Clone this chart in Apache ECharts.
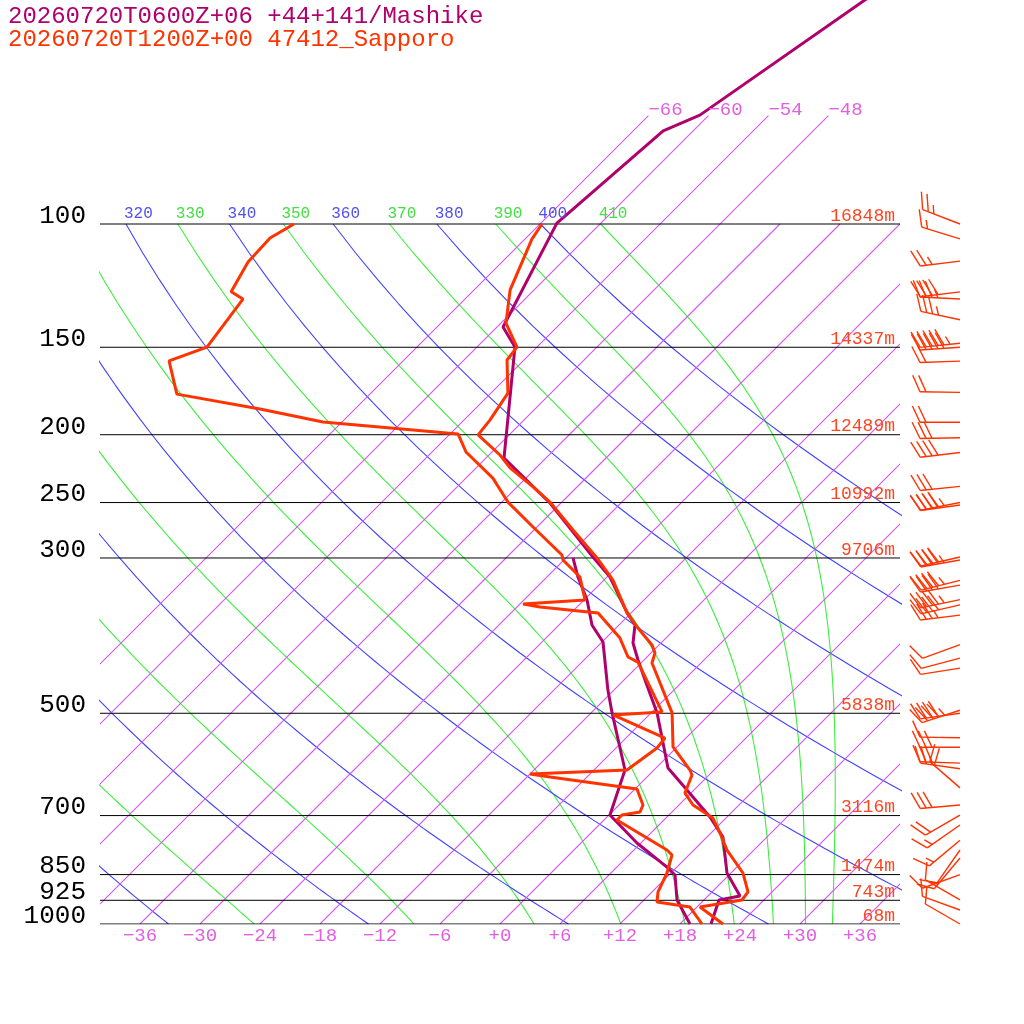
<!DOCTYPE html>
<html><head><meta charset="utf-8">
<script src="https://cdn.jsdelivr.net/npm/echarts/dist/echarts.min.js"></script>
<style>html,body{margin:0;padding:0;background:#fff}#c{width:1024px;height:1024px}</style>
</head><body><div id="c"></div>
<script>
// ---------------- data ----------------
const titleLines = ['20260720T0600Z+06 +44+141/Mashike', '20260720T1200Z+00 47412_Sapporo'];
const pressureLevels = [100, 150, 200, 250, 300, 500, 700, 850, 925, 1000];
const heightLabels = ['16848m', '14337m', '12489m', '10992m', '9706m', '5838m', '3116m', '1474m', '743m', '68m'];
const tickTemps = [-36, -30, -24, -18, -12, -6, 0, 6, 12, 18, 24, 30, 36];
const isothermTemps = [-66, -60, -54, -48, -42, -36, -30, -24, -18, -12, -6, 0, 6, 12, 18, 24, 30, 36];
const upperIsotherms = [-66, -60, -54, -48];
const dryThetas = [200, 220, 240, 260, 280, 300, 320, 340, 360, 380, 400];
const moistThetaEs = [230, 250, 270, 290, 310, 330, 350, 370, 390, 410];
const dryLabels = [320, 340, 360, 380, 400];
const moistLabels = [310, 330, 350, 370, 390, 410];

// Mashike (model) profile
const mashikeTempP = [45, 69.9, 73.6, 99.7, 140.3, 149.9, 215.9, 250.4, 299.1, 319.4, 359.4, 374.0, 396.8, 419.6, 448.1, 499.4, 598.6, 643.6, 703.4, 751.3, 845.6, 912.0, 924.1, 1000];
const mashikeTemp = [-55.1, -60.9, -63.0, -64.4, -59.4, -56.2, -46.2, -37.1, -27.4, -23.7, -18.4, -16.4, -14.8, -12.6, -9.9, -5.4, 1.2, 5.3, 10.3, 13.6, 17.6, 21.2, 19.5, 21.1];
const mashikeDewP = [300, 319.4, 344.4, 374.0, 395.5, 463.3, 499.4, 602.6, 698.8, 766.1, 829.2, 851.1, 924.1, 1000];
const mashikeDew = [-29.3, -26.9, -23.7, -20.7, -17.9, -12.6, -9.9, -2.9, 0.1, 5.6, 11.0, 12.6, 15.3, 19.0];

// Sapporo (47412) radiosonde
const sapporoTempP = [100, 105.1, 112.6, 124.2, 138.5, 149.9, 156.4, 174.4, 190.5, 200.1, 213.8, 223.1, 237.5, 249.6, 273.6, 300.0, 322.6, 359.4, 376.4, 399.4, 410.1, 423.8, 499.4, 558.6, 602.6, 612.6, 650.0, 676.1, 705.8, 741.3, 784.0, 845.6, 900.0, 924.1, 945.7, 1000];
const sapporoTemp = [-65.8, -65.3, -64.1, -62.4, -59.5, -56.0, -55.7, -52.3, -51.4, -51.1, -46.9, -44.6, -40.4, -37.2, -32.1, -26.9, -23.1, -18.4, -16.0, -12.7, -11.6, -10.9, -3.9, -0.4, 3.6, 4.3, 5.4, 7.4, 10.7, 12.9, 15.3, 19.2, 21.6, 21.8, 18.3, 22.3];
const sapporoDewP = [100, 104.7, 113.3, 125.0, 128.0, 149.9, 156.9, 175.0, 183.8, 191.8, 199.5, 211.7, 230.7, 249.6, 270.9, 297.1, 302.0, 319.4, 344.4, 349.0, 352.4, 359.4, 390.4, 415.5, 422.5, 497.8, 502.7, 542.4, 560.5, 602.6, 610.6, 616.6, 641.5, 676.1, 691.8, 698.8, 710.4, 784.0, 797.0, 845.6, 900.0, 930.2, 945.7, 1000];
const sapporoDew = [-90.6, -91.6, -91.4, -90.1, -88.2, -87.0, -89.4, -85.3, -75.5, -67.9, -53.2, -50.6, -45.3, -41.4, -36.4, -30.7, -30.1, -26.7, -23.9, -29.7, -27.7, -21.3, -16.6, -13.9, -12.4, -5.0, -9.6, -2.1, -1.9, -2.7, -12.0, -9.7, 0.2, 2.4, 2.8, 1.3, 1.3, 9.3, 10.3, 11.6, 12.6, 13.5, 17.3, 20.2];

// Sapporo winds: pressure (hPa), direction (deg), speed (kt)
const windP = [100, 105, 113, 125, 128, 137, 148, 150, 157, 174, 192, 202, 212, 237, 250, 252, 299, 302, 323, 328, 344, 350, 362, 399, 417, 431, 495, 500, 542, 559, 589, 600, 639, 676, 699, 722, 759, 784, 805, 850, 924, 955, 1000];
const windDir = [291, 287, 263, 263, 273, 282, 264, 266, 268, 271, 270, 269, 263, 264, 259, 262, 257, 260, 256, 260, 258, 257, 263, 250, 255, 261, 252, 262, 271, 270, 272, 278, 311, 265, 240, 235, 230, 215, 220, 250, 300, 290, 300];
const windSpd = [25, 15, 25, 40, 35, 35, 55, 50, 20, 20, 20, 30, 40, 30, 45, 40, 40, 45, 45, 40, 45, 40, 35, 10, 10, 10, 45, 40, 10, 30, 30, 25, 20, 30, 20, 15, 15, 10, 15, 10, 10, 10, 10];

// ---------------- helpers ----------------
const FONT = '"Liberation Mono", "DejaVu Sans Mono", monospace';
const SKEW = 70;              // skew (deg C per decade of pressure)
const P_TOP = 1000 * Math.pow(10, -924 / 700);
const C_MASHIKE = '#b0006c', C_SAPPORO = '#ff3300';
const C_ISO = '#d456f0', C_DRY = '#4242ff', C_MOIST = '#3cee3c';

function skewX(T, p) { return T + SKEW * Math.log10(1000 / p); }
function satMix(Tc, p) { const e = 6.112 * Math.exp(17.67 * Tc / (Tc + 243.5)); return 0.622 * e / (p - e); }
function thetaE(Tc, p) {
  const T = Tc + 273.15, r = satMix(Tc, p);
  return T * Math.pow(1000 / p, 0.2854 * (1 - 0.28 * r)) * Math.exp((3.376 / T - 0.00254) * r * 1000 * (1 + 0.81 * r));
}
function moistLapse(p, Tc) {
  const T = Tc + 273.15, r = satMix(Tc, p), Rd = 287.04, cp = 1005.7, L = 2.501e6, eps = 0.622;
  return (Rd * T + L * r) / (p * (cp + L * L * r * eps / (Rd * T * T)));
}
function dryLine(theta) {
  const pts = [];
  for (let p = 1000; p >= 100; p -= 10) pts.push([skewX(theta * Math.pow(p / 1000, 0.2857) - 273.15, p), p]);
  return pts;
}
function moistLine(te) {
  let lo = -100, hi = 50;
  for (let i = 0; i < 60; i++) { const m = (lo + hi) / 2; if (thetaE(m, 1000) > te) hi = m; else lo = m; }
  let T = (lo + hi) / 2, p = 1000;
  const pts = [[skewX(T, p), p]], h = -5;
  while (p > 100 + 1e-6) {
    const k1 = moistLapse(p, T), k2 = moistLapse(p + h / 2, T + h / 2 * k1),
      k3 = moistLapse(p + h / 2, T + h / 2 * k2), k4 = moistLapse(p + h, T + h * k3);
    T += h / 6 * (k1 + 2 * k2 + 2 * k3 + k4); p += h;
    if (Math.round(p) % 10 === 0) pts.push([skewX(T, p), p]);
  }
  return pts;
}
function profile(ps, ts) { return ps.map((p, i) => [skewX(ts[i], p), p]); }
function lineSeries(data, color, width, z) {
  return { type: 'line', data, symbol: 'none', silent: true, animation: false, clip: true, z: z,
    color: color, itemStyle: { color: color },
    lineStyle: { color: color, width: width }, emphasis: { disabled: true } };
}
function textSeries(points, texts, colors, o) {
  return {
    type: 'custom', silent: true, animation: false, clip: !!o.clip, z: 10, data: points,
    renderItem: function (params, api) {
      const i = params.dataIndex, c = api.coord(points[i]);
      return { type: 'text', x: c[0] + (o.dx || 0), y: c[1] + (o.dy || 0),
        style: { text: texts[i], fill: Array.isArray(colors) ? colors[i] : colors,
          font: o.size + 'px ' + FONT, align: o.align, verticalAlign: 'middle',
          textAlign: o.align, textVerticalAlign: 'middle' } };
    }
  };
}
const fmtT = t => (t < 0 ? '\u2212' + Math.abs(t) : '+' + t);

// ---------------- series ----------------
const series = [];
const moistLines = {};
moistThetaEs.forEach(te => { moistLines[te] = moistLine(te); series.push(lineSeries(moistLines[te], C_MOIST, 1.1, 1)); });
dryThetas.forEach(th => series.push(lineSeries(dryLine(th), C_DRY, 1.1, 1)));

// isotherms: straight lines in skew-T space, drawn through the axes
series.push({
  type: 'custom', silent: true, animation: false, clip: true, z: 2,
  data: isothermTemps.map(t => [t, upperIsotherms.indexOf(t) >= 0 ? 70 : 100]),
  renderItem: function (params, api) {
    const t = isothermTemps[params.dataIndex];
    const pTop = upperIsotherms.indexOf(t) >= 0 ? 70 : 100;
    const a = api.coord([skewX(t, 1000), 1000]), b = api.coord([skewX(t, pTop), pTop]);
    return { type: 'line', shape: { x1: a[0], y1: a[1], x2: b[0], y2: b[1] }, style: { stroke: C_ISO, lineWidth: 1.1 } };
  }
});
pressureLevels.forEach(p => series.push(lineSeries([[-40, p], [40, p]], '#000000', 1, 3)));

series.push(lineSeries(profile(mashikeTempP, mashikeTemp), C_MASHIKE, 3, 4));
series.push(lineSeries(profile(mashikeDewP, mashikeDew), C_MASHIKE, 3, 4));
series.push(lineSeries(profile(sapporoTempP, sapporoTemp), C_SAPPORO, 3, 5));
series.push(lineSeries(profile(sapporoDewP, sapporoDew), C_SAPPORO, 3, 5));

// labels
series.push(textSeries(pressureLevels.map(p => [-40, p]), pressureLevels.map(String), '#000', { dx: -14, dy: -8, size: 26, align: 'right' }));
series.push(textSeries(pressureLevels.map(p => [39.5, p]), heightLabels, '#ff4422', { dx: 0, dy: -8, size: 18, align: 'right' }));
series.push(textSeries(tickTemps.map(t => [skewX(t, 1000), 1000]), tickTemps.map(fmtT), '#e060e0', { dy: 12, size: 19, align: 'center' }));
series.push(textSeries(upperIsotherms.map(t => [skewX(t, 70), 70]), upperIsotherms.map(fmtT), '#e060e0', { dx: 0, dy: -6, size: 19, align: 'left' }));
const adiaPts = [], adiaTxt = [], adiaCol = [];
dryLabels.forEach(th => { adiaPts.push([skewX(th * Math.pow(0.1, 0.2857) - 273.15, 100), 100]); adiaTxt.push(String(th)); adiaCol.push('#5050f0'); });
moistLabels.forEach(te => { const l = moistLines[te]; adiaPts.push([l[l.length - 1][0], 100]); adiaTxt.push(String(te)); adiaCol.push('#44dd44'); });
series.push(textSeries(adiaPts, adiaTxt, adiaCol, { dx: -2, dy: -10, size: 16, align: 'left', clip: true }));

// wind barbs
series.push({
  type: 'custom', silent: true, animation: false, clip: false, z: 6,
  data: windP.map(p => [46, p]),
  renderItem: function (params, api) {
    const i = params.dataIndex, b = api.coord([46, windP[i]]);
    const D = windDir[i] * Math.PI / 180, sx = Math.sin(D), sy = -Math.cos(D);
    const L = 40, tip = [b[0] + sx * L, b[1] + sy * L];
    const a = 65 * Math.PI / 180, bx = sx * Math.cos(a) - sy * Math.sin(a), by = sx * Math.sin(a) + sy * Math.cos(a);
    const st = { stroke: C_SAPPORO, lineWidth: 1.4 };
    const kids = [{ type: 'line', shape: { x1: b[0], y1: b[1], x2: tip[0], y2: tip[1] }, style: st }];
    const spd = Math.round(windSpd[i] / 5) * 5;
    const nLong = Math.floor(spd / 10), half = spd % 10 >= 5;
    let pos = 0;
    for (let k = 0; k < nLong; k++) {
      const s = [tip[0] - sx * pos, tip[1] - sy * pos];
      kids.push({ type: 'line', shape: { x1: s[0], y1: s[1], x2: s[0] + bx * 18, y2: s[1] + by * 18 }, style: st });
      pos += 6;
    }
    if (half) {
      if (nLong === 0) pos = 6;
      const s = [tip[0] - sx * pos, tip[1] - sy * pos];
      kids.push({ type: 'line', shape: { x1: s[0], y1: s[1], x2: s[0] + bx * 9, y2: s[1] + by * 9 }, style: st });
    }
    return { type: 'group', children: kids };
  }
});

const chart = echarts.init(document.getElementById('c'), null, { renderer: 'canvas' });
chart.setOption({
  backgroundColor: '#fff',
  animation: false,
  grid: { left: 100, right: 124, top: 0, bottom: 100, containLabel: false },
  xAxis: { type: 'value', min: -40, max: 40, show: false },
  yAxis: { type: 'log', logBase: 10, inverse: true, min: P_TOP, max: 1000, show: false },
  graphic: [
    { type: 'text', left: 8, top: 5, style: { text: titleLines[0], fill: C_MASHIKE, font: '24px ' + FONT } },
    { type: 'text', left: 8, top: 28, style: { text: titleLines[1], fill: C_SAPPORO, font: '24px ' + FONT } }
  ],
  series: series
});
</script></body></html>
